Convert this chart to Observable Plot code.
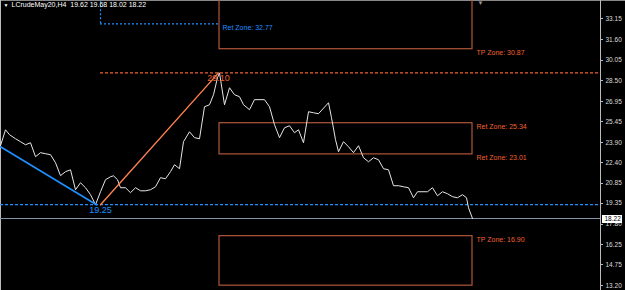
<!DOCTYPE html>
<html>
<head>
<meta charset="utf-8">
<script src="https://cdn.jsdelivr.net/npm/d3@7"></script>
<script src="https://cdn.jsdelivr.net/npm/@observablehq/plot@0.6"></script>
<style>
  html, body { margin: 0; padding: 0; background: #000; }
  #chart svg { display: block; }
</style>
</head>
<body>
<div id="chart"></div>
<script>
// ---- data ----
const titleText = "LCrudeMay20,H4  19.62 19.68 18.02 18.22";
const bars = [0,1,1.8,3,4,5,6,7,8,9,10,11,12,13,14,15,16,17,18,19,20,21,22,22.6,23.4,24,25,26,27,28,29,30,31,32,33,34,34.8,35.8,36.6,37.8,38.8,39.8,40.8,41.8,42.6,43.4,43.8,44.8,45.8,46.8,47.8,48.6,49.8,50.8,52.8,53.8,54.8,55.8,56.8,57.8,58.8,59.6,60.6,61.6,62.6,63.6,65.6,66.2,67,67.6,68.6,69.6,70.6,71.6,72.6,73.6,74.6,75.6,76.6,77.6,78.6,79.6,80.6,81.6,82.6,83.4,85.4,86.4,87.4,88.4,89.4,90.4,91.4,92.4,93.2,93.6,94.4];
const closes = [23.66,24.85,24.48,24.18,23.96,23.73,23.88,22.84,23.14,23.06,22.99,22.39,21.42,21.72,21.86,20.37,20.89,20.52,20.00,19.25,20.22,21.12,21.34,21.41,21.12,20.52,20.52,20.15,20.52,20.29,20.29,20.37,20.59,21.27,21.19,21.72,22.24,21.94,23.96,24.70,24.26,24.18,26.57,26.72,27.47,28.74,29.10,26.72,27.99,27.47,27.32,26.72,26.35,27.10,27.10,26.57,25.23,24.26,25.00,25.15,24.63,24.85,23.88,26.20,26.12,26.05,26.87,25.75,24.11,23.21,23.96,23.58,23.14,23.66,22.76,22.46,22.76,22.61,21.94,21.86,20.67,20.67,20.59,20.52,19.77,20.22,20.22,20.52,19.92,20.22,20.07,19.85,19.77,20.00,19.77,19.02,18.22];
const tickLabels = ["33.15","31.60","30.05","28.50","26.95","25.45","23.90","22.40","20.85","19.35","17.80","16.25","14.75","13.20"];

const downStart = {bar: 0, price: 23.58};
const swingLowBar = 19.2, swingLow = 19.25;
const swingHighBar = 43.6, swingHigh = 29.10;
const retBlue = 32.77, retBlueBar = 20;
const zoneStart = 43.8, zoneEnd = 94.4;
const tpHigh = 30.87, retHigh = 25.34, retLow = 23.01, tpLow = 16.90;
const tpHighTop = 34.6, tpLowBottom = 13.2;
const lastClose = 18.22;
const axisBar = 120;
const shiftBar = 96;

const series = bars.map((b, i) => ({bar: b, price: closes[i]}));
const zones = [
  {y1: tpHigh, y2: tpHighTop},
  {y1: retLow, y2: retHigh},
  {y1: tpLowBottom, y2: tpLow}
];
const zoneLabels = [
  {text: "TP Zone: " + tpHigh.toFixed(2), price: tpHigh},
  {text: "Ret Zone: " + retHigh.toFixed(2), price: retHigh},
  {text: "Ret Zone: " + retLow.toFixed(2), price: retLow},
  {text: "TP Zone: " + tpLow.toFixed(2), price: tpLow}
];

const orange = "#f06030";
const boxCol = "#b0573a";
const blue = "#1e90ff";
const font = "Liberation Sans, Arial, sans-serif";
const crisp = {shapeRendering: "crispEdges"};

const chart = Plot.plot({
  width: 625,
  height: 290,
  margin: 0,
  x: {domain: [0, 125], axis: null},
  y: {domain: [12.84, 34.51], axis: null},
  style: {background: "#000", color: "#ccc", fontFamily: font},
  marks: [
    // frame borders
    Plot.frame({anchor: "top", stroke: "#888", ...crisp}),
    Plot.frame({anchor: "left", stroke: "#bbb", ...crisp}),
    // zone boxes
    Plot.rect(zones, {x1: zoneStart, x2: zoneEnd, y1: "y1", y2: "y2", fill: "none", stroke: boxCol, strokeWidth: 1.2}),
    // ret zone blue dashed
    Plot.ruleX([retBlueBar], {y1: retBlue, y2: 36, stroke: blue, strokeWidth: 1.2, strokeDasharray: "2,2"}),
    Plot.ruleY([retBlue], {x1: retBlueBar, x2: zoneStart, stroke: blue, strokeWidth: 1.3, strokeDasharray: "2,2"}),
    // horizontal levels
    Plot.ruleY([swingHigh], {x1: retBlueBar, x2: axisBar, stroke: orange, strokeWidth: 1.3, strokeDasharray: "3,2"}),
    Plot.ruleY([swingLow], {x1: 0, x2: axisBar, stroke: blue, strokeWidth: 1.3, strokeDasharray: "3,2"}),
    Plot.ruleY([lastClose], {x1: 0, x2: axisBar, stroke: "#8593a6", ...crisp}),
    // price line
    Plot.line(series, {x: "bar", y: "price", stroke: "#e6e6e6", strokeWidth: 1}),
    // swing legs
    Plot.line([downStart, {bar: swingLowBar, price: swingLow}], {x: "bar", y: "price", stroke: blue, strokeWidth: 1.6}),
    Plot.line([{bar: retBlueBar, price: swingLow}, {bar: swingHighBar, price: swingHigh}], {x: "bar", y: "price", stroke: "#ff8050", strokeWidth: 1.4}),
    // swing labels
    Plot.text([swingLow.toFixed(2)], {x: retBlueBar, y: swingLow, lineAnchor: "top", dy: 2, fill: blue, fontSize: 9}),
    Plot.text([swingHigh.toFixed(2)], {x: swingHighBar, y: swingHigh, lineAnchor: "top", dy: 2, fill: orange, fontSize: 9}),
    // zone labels
    Plot.text(["Ret Zone: " + retBlue.toFixed(2)], {x: zoneStart, y: retBlue, textAnchor: "start", lineAnchor: "top", dx: 3, dy: 1, fill: blue, fontSize: 7}),
    Plot.text(zoneLabels, {x: zoneEnd, y: "price", text: "text", textAnchor: "start", lineAnchor: "top", dx: 4, dy: 1, fill: orange, fontSize: 7}),
    // right price axis
    Plot.ruleX([axisBar], {stroke: "#bbb", ...crisp}),
    Plot.ruleY(tickLabels, {y: d => +d, x1: axisBar, x2: axisBar + 0.6, stroke: "#bbb", ...crisp}),
    Plot.text(tickLabels, {x: axisBar, y: d => +d, text: d => d, textAnchor: "start", dx: 5, fill: "#ddd", fontSize: 6.5}),
    // last price tag
    Plot.ruleY([lastClose], {x1: axisBar + 0.3, x2: axisBar + 4.4, stroke: "#fff", strokeWidth: 8, ...crisp}),
    Plot.text([lastClose.toFixed(2)], {x: axisBar, y: lastClose, textAnchor: "start", dx: 4, fill: "#000", fontSize: 6.5}),
    // title and markers
    Plot.text(["▼"], {frameAnchor: "top-left", dx: 3, dy: 3, fill: "#fff", fontSize: 5}),
    Plot.text([titleText], {frameAnchor: "top-left", dx: 11, dy: 2, fill: "#fff", fontSize: 7}),
    Plot.text(["▼"], {x: shiftBar, frameAnchor: "top", dy: 0, fill: "#999", fontSize: 6})
  ]
});
document.getElementById("chart").appendChild(chart);
</script>
</body>
</html>
